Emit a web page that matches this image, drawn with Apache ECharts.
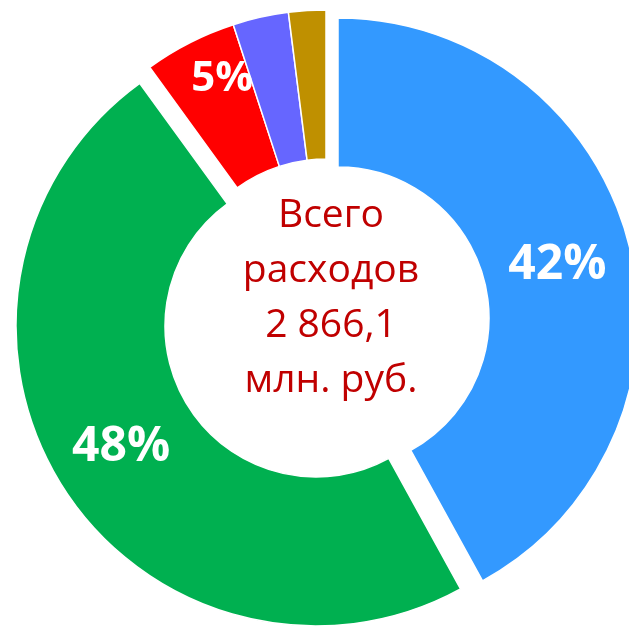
<!DOCTYPE html>
<html>
<head>
<meta charset="utf-8">
<script src="https://cdn.jsdelivr.net/npm/echarts@6/dist/echarts.min.js"></script>
<style>
  html, body { margin: 0; padding: 0; background: #fff; }
  #chart { width: 629px; height: 627px; }
</style>
</head>
<body>
<div id="chart"></div>
<script>
// shares of total spending, percent, clockwise from 12 o'clock
const sliceNames = ['Сегмент 1', 'Сегмент 2', 'Сегмент 3', 'Сегмент 4', 'Сегмент 5'];
const sliceShares = [42, 48, 5, 3, 2];
const sliceColors = ['#3399FF', '#00B050', '#FF0000', '#6666FF', '#BF9000'];
const showLabel = [true, true, true, false, false];
const centerLines = ['Всего', 'расходов', '2 866,1', 'млн. руб.'];

// the source chart is "exploded": blue and green are pulled out on their own,
// the three small slices stay together. One pie layer per piece, same angles.
const sliceGroup = [0, 1, 2, 2, 2];
const groupCenters = [[338, 318], [316, 326], [326, 310]];
const labelSize = [48, 48, 42, 42, 42];
const labelNudge = [[-2, 4], [-2, -1], [0, -27], [0, 0], [0, 0]];

const chart = echarts.init(document.getElementById('chart'));

function layer(g) {
  return {
    type: 'pie',
    center: groupCenters[g],
    radius: [151, 300],
    startAngle: 90,
    clockwise: true,
    avoidLabelOverlap: false,
    emphasis: { disabled: true },
    labelLine: { show: false },
    label: {
      position: 'inside',
      color: '#fff',
      fontFamily: 'Open Sans',
      fontWeight: 'bold',
      formatter: (p) => Math.round(p.percent) + '%',
    },
    labelLayout: (params) => ({
      dx: labelNudge[params.dataIndex][0],
      dy: labelNudge[params.dataIndex][1],
    }),
    data: sliceNames.map((name, i) => {
      const mine = sliceGroup[i] === g;
      return {
        name: name,
        value: sliceShares[i],
        itemStyle: mine
          ? { color: sliceColors[i], borderColor: '#fff', borderWidth: 1.5 }
          : { color: 'rgba(0,0,0,0)', borderWidth: 0 },
        label: { show: mine && showLabel[i], fontSize: labelSize[i] },
      };
    }),
  };
}

const option = {
  backgroundColor: '#fff',
  animation: false,
  tooltip: { show: false },
  series: groupCenters.map((c, g) => layer(g)),
  graphic: [
    {
      type: 'text',
      x: 331,
      y: 298,
      silent: true,
      style: {
        text: centerLines.join('\n'),
        fill: '#C00000',
        font: '39px "Open Sans"',
        lineHeight: 55,
        align: 'center',
        verticalAlign: 'middle',
      },
    },
  ],
};

chart.setOption(option);
</script>
</body>
</html>
